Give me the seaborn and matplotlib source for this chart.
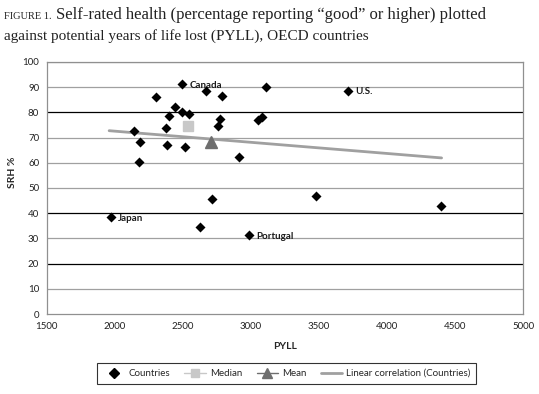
import numpy as np
import pandas as pd
import matplotlib
matplotlib.use('Agg')
import matplotlib.pyplot as plt
from matplotlib.lines import Line2D
import seaborn as sns

# Countries: PYLL vs self-rated health (% good or higher)
pyll = [2495, 2667, 2790, 3107, 2301, 2442, 2491, 2545, 2396, 2772, 2760, 3053, 3080,
        2142, 2376, 2188, 2384, 2513, 2911, 2181, 2713, 1971, 2628, 2985, 3716, 3474, 4395]
srh = [91.3, 88.5, 86.6, 90.0, 86.0, 82.0, 80.0, 79.4, 78.7, 77.4, 74.6, 76.9, 78.1,
       72.6, 73.7, 68.3, 67.2, 66.1, 62.3, 60.2, 45.5, 38.6, 34.4, 31.3, 88.6, 46.7, 43.0]
names = ['Canada', '', '', '', '', '', '', '', '', '', '', '', '',
         '', '', '', '', '', '', '', '', 'Japan', '', 'Portugal', 'U.S.', '', '']

median_pt = (2540, 74.6)
mean_pt = (2704, 68.1)

# linear correlation line
trend_x = [1958, 4400]
trend_y = [72.7, 61.9]

df = pd.DataFrame({'PYLL': pyll, 'SRH': srh, 'name': names})

sns.set_style('white')
plt.rcParams['font.family'] = ['Lato', 'DejaVu Sans']

fig = plt.figure(figsize=(5.39, 3.94), dpi=100)
ax = fig.add_axes([0.0868, 0.203, 0.884, 0.640])

# gridlines (some drawn darker in the original)
dark = [20, 40, 80]
for v in range(10, 101, 10):
    ax.axhline(v, color='black' if v in dark else '#a0a0a0', lw=0.9, zorder=1)

ax.plot(trend_x, trend_y, color='#a0a0a0', lw=2, zorder=2)

sns.scatterplot(data=df, x='PYLL', y='SRH', marker='D', color='black', s=26,
                edgecolor='black', linewidth=0, ax=ax, zorder=4, legend=False)

ax.plot(*median_pt, marker='s', color='#c8c8c8', ms=7.5, zorder=3)
ax.plot(*mean_pt, marker='^', color='#6e6e6e', ms=9, zorder=3)

for _, r in df[df['name'] != ''].iterrows():
    ax.annotate(r['name'], (r['PYLL'], r['SRH']), xytext=(5, -1), textcoords='offset points',
                fontsize=7, fontweight='bold', va='center', color='#1a1a1a')

ax.set_xlim(1500, 5000)
ax.set_ylim(0, 100)
ax.set_xticks(range(1500, 5001, 500))
ax.set_yticks(range(0, 101, 10))
ax.tick_params(axis='both', labelsize=7, colors='#808080', labelcolor='#222222',
               length=3.5, width=0.8, direction='out', pad=2)
for s in ax.spines.values():
    s.set_color('#909090')
    s.set_linewidth(0.9)

ax.set_xlabel('PYLL', fontsize=7.5, fontweight='bold', labelpad=8)
ax.set_ylabel('SRH %', fontsize=7.5, fontweight='bold')
ax.yaxis.set_label_coords(-0.062, 0.56)

handles = [
    Line2D([], [], marker='D', color='black', ls='none', ms=5),
    Line2D([], [], marker='s', color='#c8c8c8', ms=6, lw=1),
    Line2D([], [], marker='^', color='#6e6e6e', ms=7, lw=1),
    Line2D([], [], color='#a0a0a0', lw=2),
]
leg = fig.legend(handles, ['Countries', 'Median', 'Mean', 'Linear correlation (Countries)'],
                 loc='center', bbox_to_anchor=(0.532, 0.052), ncol=4, fontsize=7,
                 frameon=True, fancybox=False, edgecolor='black', handlelength=2.2,
                 handletextpad=0.4, columnspacing=1.5, borderpad=0.6)
leg.get_frame().set_linewidth(0.8)

# title
fig.text(0.008, 0.952, 'FIGURE 1.', fontsize=7.5, family='Liberation Serif', color='#222222')
fig.text(0.103, 0.952, 'Self-rated health (percentage reporting \u201cgood\u201d or higher) plotted',
         fontsize=12, family='Liberation Serif', color='#222222')
fig.text(0.008, 0.899, 'against potential years of life lost (PYLL), OECD countries',
         fontsize=11, family='Liberation Serif', color='#222222')

fig.savefig('out.png', dpi=100)
